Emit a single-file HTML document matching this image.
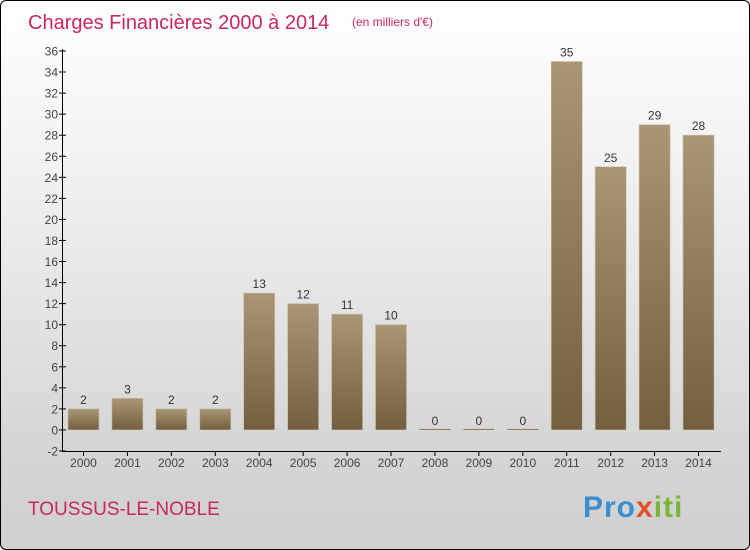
<!DOCTYPE html>
<html><head><meta charset="utf-8">
<style>
body{margin:0;width:750px;height:550px;overflow:hidden;font-family:"Liberation Sans",sans-serif;}
#wrap{position:absolute;left:0;top:0;width:748px;height:548px;border:1px solid #000;border-radius:6px;background:linear-gradient(#ffffff,#f2f2f2 30%,#d6d6d6 80%,#cfcfcf);overflow:hidden}
</style></head><body>
<div id="wrap">
<svg width="750" height="550">
<defs><linearGradient id="bg" x1="0" y1="0" x2="0" y2="1"><stop offset="0" stop-color="#a89676"/><stop offset="1" stop-color="#735f40"/></linearGradient></defs>
<text x="27" y="28" font-size="20" fill="#c8285a">Charges Financières 2000 à 2014</text>
<text x="351" y="25" font-size="12" fill="#c8285a">(en milliers d'€)</text>
<text x="27" y="514" font-size="19" fill="#c8285a">TOUSSUS-LE-NOBLE</text>
<text x="582" y="516" font-size="30" font-weight="bold" letter-spacing="1" fill="#e07a20"><tspan fill="#3a8fd0">Pro</tspan><tspan fill="#e0502a">x</tspan><tspan fill="#7ab53a">iti</tspan></text>
<g id="g"></g>
</svg></div>
<script>
const years=["2000","2001","2002","2003","2004","2005","2006","2007","2008","2009","2010","2011","2012","2013","2014"];
const values=[2,3,2,2,13,12,11,10,0,0,0,35,25,29,28];
const yTicks=[-2,0,2,4,6,8,10,12,14,16,18,20,22,24,26,28,30,32,34,36];
const NS="http://www.w3.org/2000/svg";
const g=document.getElementById('g');
const y=v=>450-(v+2)*400/38;
const x=i=>82.5+i*43.93;
function mk(t,a,txt){const e=document.createElementNS(NS,t);for(const k in a)e.setAttribute(k,a[k]);if(txt!=null)e.textContent=txt;g.appendChild(e);return e;}
let ax=mk('line',{x1:61.5,y1:48,x2:61.5,y2:450,stroke:'#000'});


let bx=mk('line',{x1:61,y1:450.5,x2:720,y2:450.5,stroke:'#000'});


yTicks.forEach(t=>{
 let l=mk('line',{x1:58,x2:65,y1:y(t),y2:y(t),stroke:'#000'});
 
 
 let tx=mk('text',{x:57,y:y(t)+4.5,'font-size':12,fill:'#444','text-anchor':'end'},t);
 
 
});
years.forEach((yr,i)=>{
 const v=values[i];
 let h=Math.max(1,y(0)-y(v));
 let r=mk('rect',{x:x(i)-15.5,y:y(0)-h,width:31,height:h,fill:v?'url(#bg)':'#8a7a60',stroke:v?'#c8bca4':'none','stroke-width':0.6});
 
 
 let vl=mk('text',{x:x(i),y:y(v)-5,'font-size':12,fill:'#333','text-anchor':'middle'},v);
 
 
 let tk=mk('line',{x1:x(i),x2:x(i),y1:450,y2:455,stroke:'#000'});
 
 
 let xl=mk('text',{x:x(i),y:466,'font-size':12,fill:'#444','text-anchor':'middle'},yr);
 
 
});
</script>
</body></html>
